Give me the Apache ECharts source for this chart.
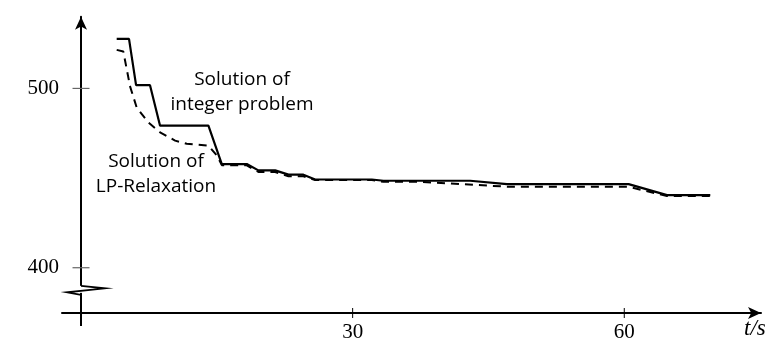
<!DOCTYPE html>
<html>
<head>
<meta charset="utf-8">
<script src="https://cdn.jsdelivr.net/npm/echarts@6/dist/echarts.min.js"></script>
<style>html,body{margin:0;padding:0;background:#fff}#c{width:779px;height:343px}</style>
</head>
<body>
<div id="c"></div>
<script>
// Data
const intTime  = [3.94, 5.30, 6.08, 7.62, 8.73, 14.07, 15.55, 18.31, 19.59, 21.44, 22.91, 24.56, 25.86, 32.12, 33.40, 42.98, 47.04, 60.48, 64.72, 69.50];
const intValue = [527.6, 527.6, 501.8, 501.8, 479.2, 479.2, 457.8, 457.8, 454.3, 454.3, 451.9, 451.9, 449.2, 449.2, 448.5, 448.5, 446.6, 446.6, 440.5, 440.5];
const lpTime   = [3.94, 4.67, 5.41, 6.15, 7.44, 8.73, 10.39, 11.68, 14.07, 15.0, 15.55, 18.31, 19.59, 21.44, 22.91, 24.56, 25.86, 32.12, 33.40, 37.46, 47.4, 60.48, 64.72, 69.50];
const lpValue  = [521.5, 520.6, 501.3, 489.3, 481.0, 475.5, 470.9, 469.1, 468.1, 462.6, 457.2, 457.1, 453.4, 453.4, 451.0, 451.0, 448.9, 448.9, 447.9, 447.9, 445.1, 445.1, 440.0, 440.0];
const xTicks = [30, 60];
const yTicks = [400, 500];
const xName = 't/s';
const labelInt = 'Solution of\ninteger problem';
const labelLP = 'Solution of\nLP-Relaxation';

const zip = (a, b) => a.map((v, i) => [v, b[i]]);
const chart = echarts.init(document.getElementById('c'), null, {renderer: 'canvas'});
const serif = '"Liberation Serif", "DejaVu Serif", serif';
const sans = '"Open Sans", "DejaVu Sans", sans-serif';

chart.setOption({
  animation: false,
  backgroundColor: '#fff',
  grid: {left: 62, right: 18, top: 16.7, bottom: 27.3, containLabel: false},
  xAxis: {
    type: 'value', min: -2.1, max: 75.1,
    axisLine: {onZero: false, lineStyle: {color: '#000', width: 2}, symbol: ['none', 'arrow'], symbolSize: [9, 13]},
    axisTick: {show: false},
    splitLine: {show: false},
    axisLabel: {customValues: xTicks, margin: 9, color: '#000', fontFamily: serif, fontSize: 21}
  },
  yAxis: {
    type: 'value', min: 374.75, max: 540,
    axisLine: {onZero: true, lineStyle: {color: '#000', width: 2}, symbol: ['none', 'arrow'], symbolSize: [9, 13]},
    axisTick: {show: false},
    splitLine: {show: false},
    axisLabel: {customValues: yTicks, margin: 3, color: '#000', fontFamily: serif, fontSize: 21}
  },
  series: [
    {type: 'line', data: zip(lpTime, lpValue), symbol: 'none', lineStyle: {color: '#000', width: 2, type: [8, 6]}, z: 3},
    {type: 'line', data: zip(intTime, intValue), symbol: 'none', lineStyle: {color: '#000', width: 2.2}, z: 4}
  ]
});

// Decorations computed through the chart's scales
const g = [];
const ax0 = chart.convertToPixel({gridIndex: 0}, [0, 374.75]);
yTicks.forEach(v => {
  const p = chart.convertToPixel({gridIndex: 0}, [0, v]);
  g.push({type: 'line', shape: {x1: p[0] - 8.5, y1: p[1], x2: p[0] + 8.5, y2: p[1]}, style: {stroke: '#666', lineWidth: 1.2}, z: 50});
});
xTicks.forEach(v => {
  const p = chart.convertToPixel({gridIndex: 0}, [v, 374.75]);
  g.push({type: 'line', shape: {x1: p[0], y1: p[1] - 5, x2: p[0], y2: p[1] + 5}, style: {stroke: '#000', lineWidth: 1}, z: 50});
});
// y axis extension below the x axis
g.push({type: 'line', shape: {x1: ax0[0], y1: ax0[1], x2: ax0[0], y2: ax0[1] + 13}, style: {stroke: '#000', lineWidth: 2}, z: 50});
// axis break zigzag
const b = chart.convertToPixel({gridIndex: 0}, [0, 388.5]);
g.push({type: 'rect', shape: {x: b[0] - 2, y: b[1] - 2.5, width: 4, height: 7}, style: {fill: '#fff'}, z: 60});
g.push({type: 'polyline', shape: {points: [[b[0], b[1] - 2.5], [b[0] + 24, b[1]], [b[0] - 14, b[1] + 4], [b[0], b[1] + 6.5]]}, style: {stroke: '#000', lineWidth: 1.8, fill: null}, z: 61});
// annotation texts
g.push({type: 'text', x: 242, y: 92.5, style: {text: labelInt, fontFamily: sans, fontSize: 19, lineHeight: 25, align: 'center', verticalAlign: 'middle', fill: '#000'}, z: 70});
g.push({type: 'text', x: 156, y: 174.5, style: {text: labelLP, fontFamily: sans, fontSize: 19, lineHeight: 25, align: 'center', verticalAlign: 'middle', fill: '#000'}, z: 70});
g.push({type: 'text', x: 744, y: 329, style: {text: xName, fontFamily: serif, fontStyle: 'italic', fontSize: 23, align: 'left', verticalAlign: 'middle', fill: '#000'}, z: 70});
chart.setOption({graphic: g});
</script>
</body>
</html>
